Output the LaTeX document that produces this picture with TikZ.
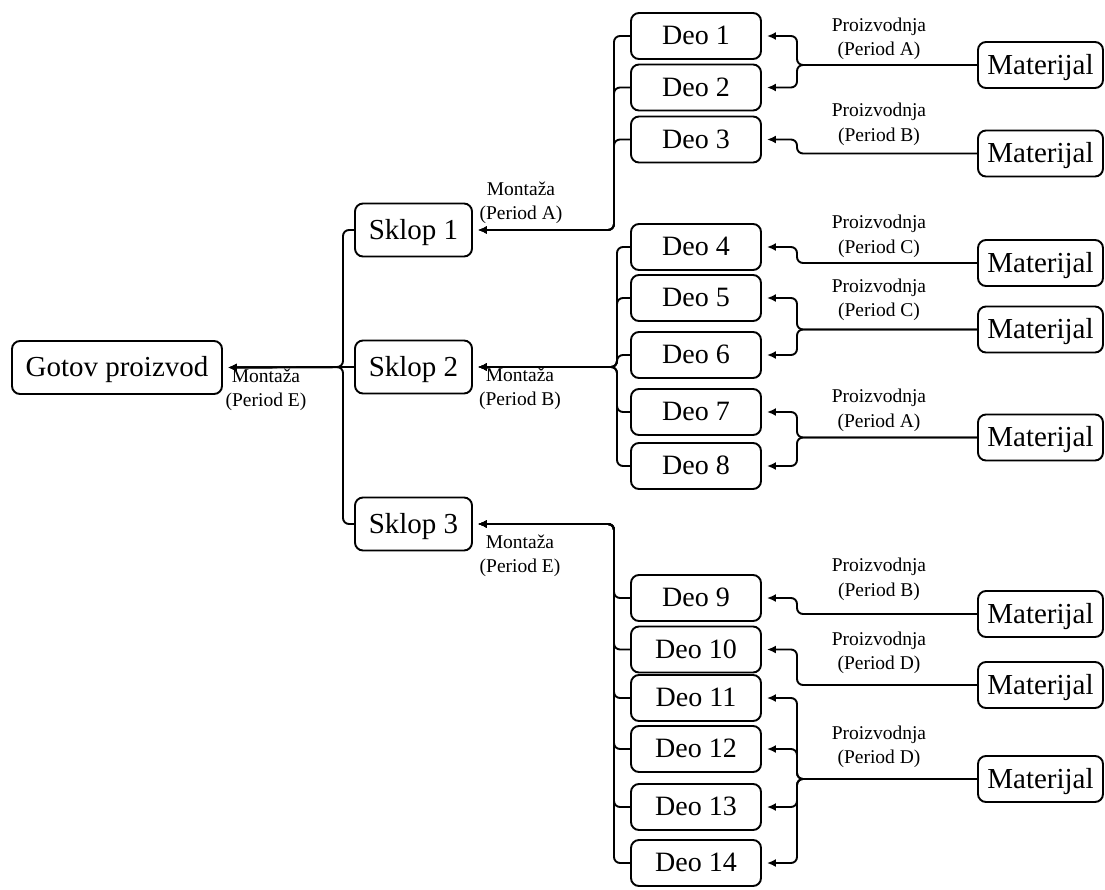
\documentclass[tikz,border=0pt]{standalone}
\usepackage{fontspec}
\setmainfont{Liberation Serif}
\usetikzlibrary{arrows.meta}
\begin{document}
\begin{tikzpicture}[x=1pt,y=-1pt,
  box/.style={draw, line width=1.9pt, rounded corners=8pt, inner sep=0pt},
  big/.style={box, font=\fontsize{29}{32}\selectfont, minimum height=53pt,
    text height=19.5pt, text depth=1.5pt},
  deo/.style={box, font=\fontsize{28}{32}\selectfont, minimum width=130pt, minimum height=46pt,
    text height=19pt, text depth=1.5pt},
  mat/.style={box, font=\fontsize{29}{32}\selectfont, minimum width=125pt, minimum height=46pt,
    text height=19.5pt, text depth=1.5pt},
  lbl/.style={align=center, inner sep=0pt, font=\fontsize{19.5}{24.5}\selectfont},
  conn/.style={line width=1.9pt, rounded corners=6pt, -{Latex[length=9pt,width=8pt]}, shorten >=5pt}]
\useasboundingbox (0,0) rectangle (1105,889);

% main nodes
\node[big, minimum width=210pt] (g) at (117,367.5) {Gotov proizvod};
\node[big, minimum width=117pt] (s1) at (413.5,230) {Sklop 1};
\node[big, minimum width=117pt] (s2) at (413.5,367) {Sklop 2};
\node[big, minimum width=117pt] (s3) at (413.5,524) {Sklop 3};

\foreach \n/\y in {1/36,2/87.5,3/139.5,4/247,5/298,6/355,7/412,8/466,
                   9/598,10/649.5,11/698,12/749,13/807,14/863}
  \node[deo] (d\n) at (696,\y) {Deo \n};

\foreach \n/\y in {1/65,2/153.5,3/263,4/329.5,5/437.5,6/614,7/685,8/779}
  \node[mat] (m\n) at (1040.5,\y) {Materijal};

% junction coordinates
\coordinate (jG) at (343,367);
\coordinate (jA) at (614,230);
\coordinate (jB) at (617,367);
\coordinate (jC) at (614,524);
\coordinate (vx) at (797,0);

% Sklop -> Gotov
\draw[conn] (s1.west) -| (jG) -- (g.east);
\draw[conn] (s3.west) -| (jG) -- (g.east);
\draw[conn] (s2.west) -- (g.east);

% Deo -> Sklop 1
\foreach \n in {1,2,3} \draw[conn] (d\n.west) -| (jA) -- (s1.east);
% Deo -> Sklop 2
\foreach \n in {4,5,6,7,8} \draw[conn] (d\n.west) -| (jB) -- (s2.east);
% Deo -> Sklop 3
\foreach \n in {9,10,11,12,13,14} \draw[conn] (d\n.west) -| (jC) -- (s3.east);

% Materijal -> Deo
\foreach \m/\d in {1/1,1/2,2/3,3/4,4/5,4/6,5/7,5/8,6/9,7/10,8/11,8/12,8/13,8/14}
  \draw[conn] (m\m.west) -- (m\m.west -| vx) |- (d\d.east);

% labels
\node[lbl] (lg) at (266,390) {Montaža\\(Period E)};
\node[lbl] (l1) at (521,203) {Montaža\\(Period A)};
\node[lbl] (l2) at (520,389) {Montaža\\(Period B)};
\node[lbl] (l3) at (520,556) {Montaža\\(Period E)};

\node[lbl] (p1) at (879,39) {Proizvodnja\\(Period A)};
\node[lbl] (p2) at (879,124.5) {Proizvodnja\\(Period B)};
\node[lbl] (p3) at (879,236.5) {Proizvodnja\\(Period C)};
\node[lbl] (p4) at (879,300) {Proizvodnja\\(Period C)};
\node[lbl] (p5) at (879,410.5) {Proizvodnja\\(Period A)};
\node[lbl] (p6) at (879,579.5) {Proizvodnja\\(Period B)};
\node[lbl] (p7) at (879,653) {Proizvodnja\\(Period D)};
\node[lbl] (p8) at (879,747) {Proizvodnja\\(Period D)};
\end{tikzpicture}
\end{document}
